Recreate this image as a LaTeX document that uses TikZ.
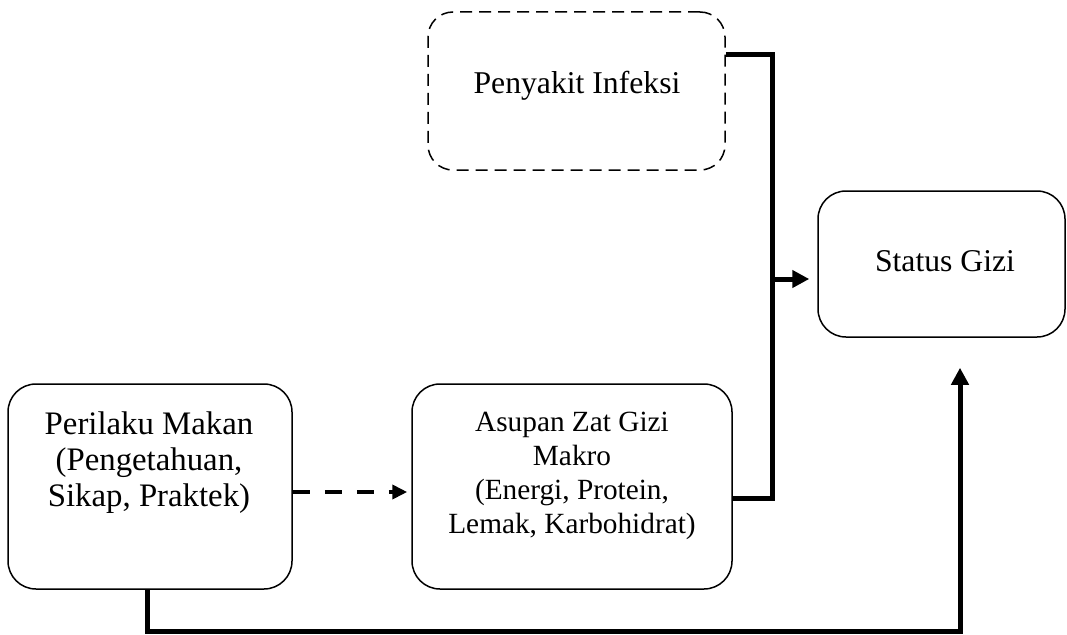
\documentclass[tikz,border=0pt]{standalone}
\usepackage{fontspec}
\setmainfont{Liberation Serif}
\usetikzlibrary{arrows.meta}
\begin{document}
\begin{tikzpicture}[x=1pt,y=1pt,
  box/.style={draw=black,line width=1.5pt,rounded corners=28pt,inner sep=0pt},
  dbox/.style={box,dash pattern=on 12pt off 7pt,rounded corners=25pt},
  txt/.style={align=center,inner sep=0pt,font=\fontsize{31.7}{35}\selectfont},
  stxt/.style={align=center,inner sep=0pt,font=\fontsize{29.3}{34}\selectfont},
  conn/.style={line width=5pt,line join=miter},
  tip/.style={-{Triangle[length=17pt,width=17pt]}},
  dconn/.style={line width=4pt,dash pattern=on 17pt off 15pt,-{Triangle[length=15pt,width=14pt]}}
]
\useasboundingbox (0,0) rectangle (1067,-634);
\fill[white] (0,0) rectangle (1067,-634);

% boxes
\node[dbox,minimum width=297pt,minimum height=158pt] (pen) at (576.5,-91) {};
\node[box,minimum width=247pt,minimum height=146pt] (stat) at (941.5,-264) {};
\node[box,minimum width=284pt,minimum height=205pt] (per) at (150,-486.5) {};
\node[box,minimum width=320pt,minimum height=205pt] (asu) at (572,-486.5) {};

% texts
\node[txt] (pent) at (577,-86) {Penyakit Infeksi};
\node[txt] (statt) at (945,-261) {Status Gizi};
\node[txt,font=\fontsize{32.8}{36}\selectfont] (pert) at (149,-463) {Perilaku Makan\\(Pengetahuan,\\Sikap, Praktek)};
\node[stxt] (asut) at (572,-476) {Asupan Zat Gizi\\Makro\\(Energi, Protein,\\Lemak, Karbohidrat)};

% junction coordinates
\coordinate (jt) at (772,-55);
\coordinate (jm) at (772,-279);
\coordinate (jb) at (772,-498);
\coordinate (dl) at (292,-492);
\coordinate (bl) at (147,-631);
\coordinate (br) at (960,-631);

% connectors
\draw[conn] (pen.east |- jt) -- (jt) -- (jb) -- (asu.east |- jb);
\draw[conn,tip,shorten >=8pt] (jm) -- (stat.west |- jm);
\draw[dconn,shorten >=4pt] (per.east |- dl) -- (asu.west |- dl);
\draw[conn,tip,shorten >=30pt] (per.south -| bl) -- (bl) -- (br) -- (stat.south -| br);
\end{tikzpicture}
\end{document}
